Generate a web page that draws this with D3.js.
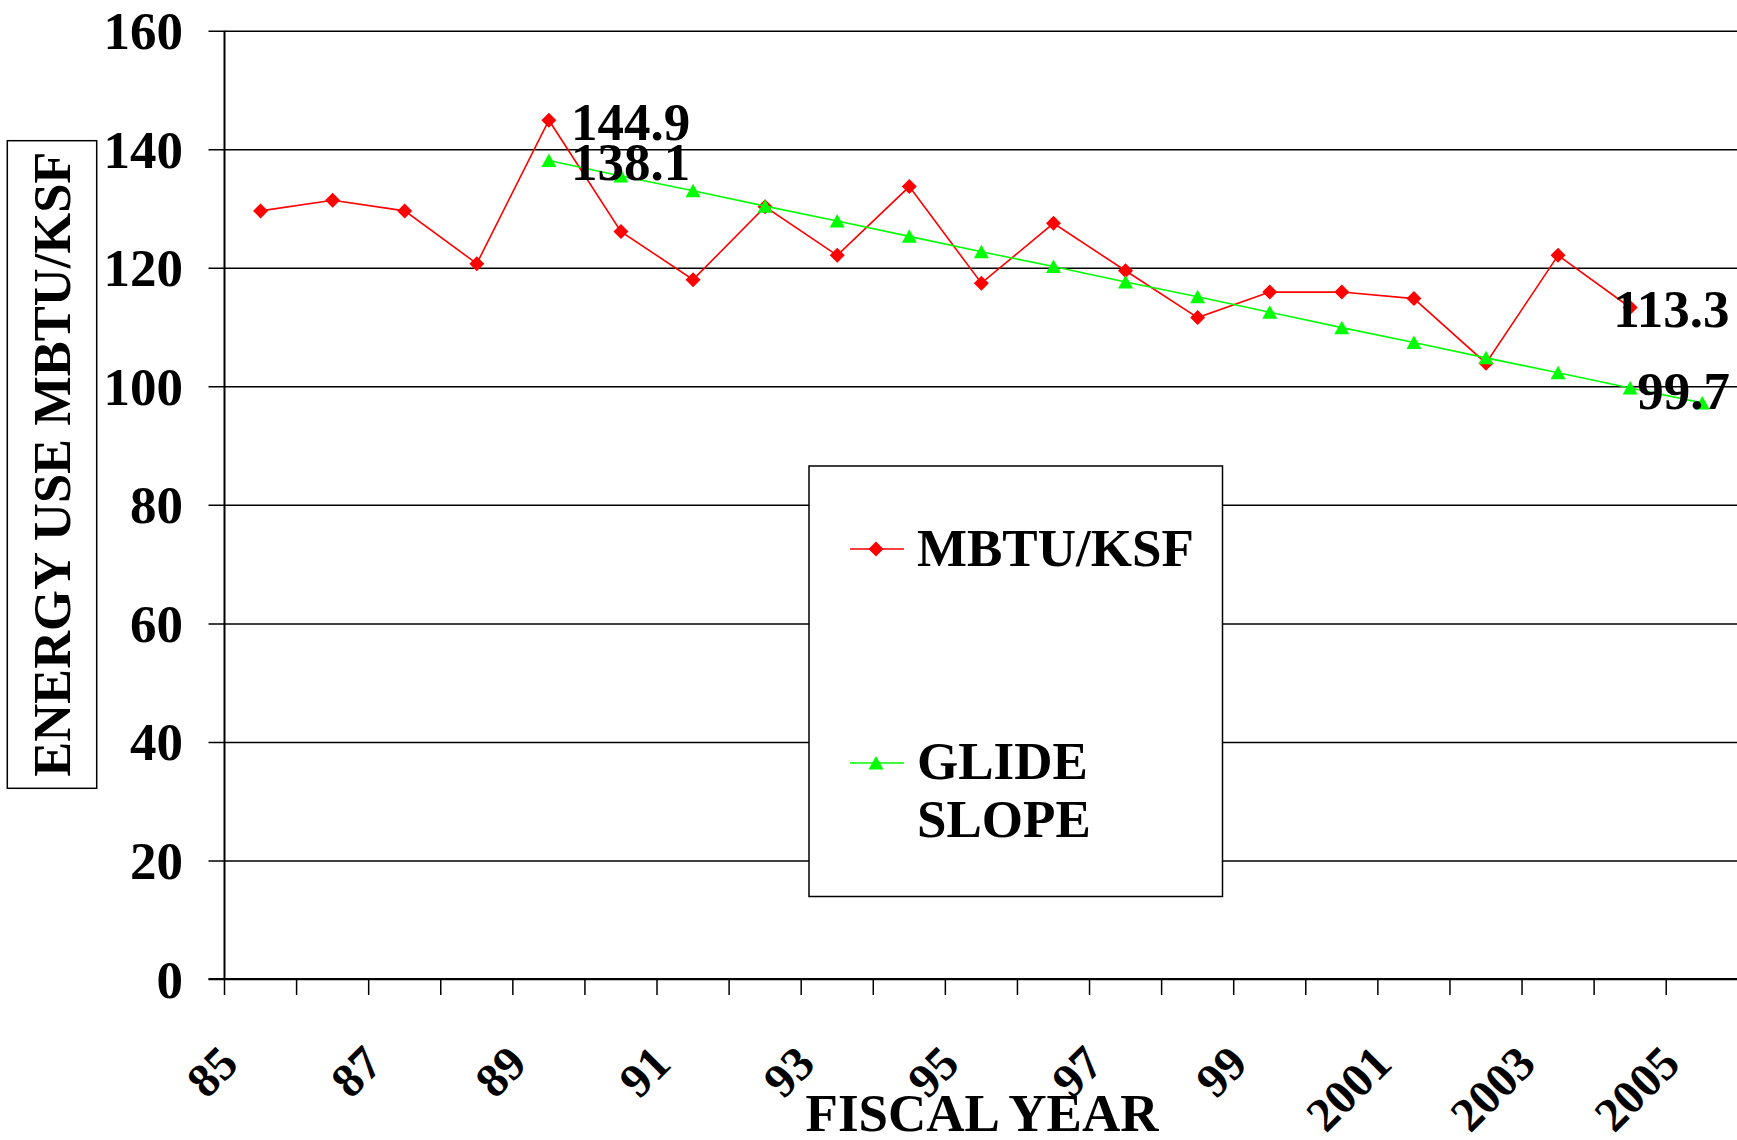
<!DOCTYPE html>
<html>
<head>
<meta charset="utf-8">
<script src="https://cdn.jsdelivr.net/npm/d3@7"></script>
<style>
  html, body { margin: 0; padding: 0; background: #fff; overflow: hidden; }
  svg { display: block; }
  text { font-family: "Liberation Serif", "Times New Roman", serif; font-weight: bold; fill: #000; }
</style>
</head>
<body>
<svg id="chart" width="1737" height="1140"></svg>
<script>
// ---- data ----
const years = ["85","86","87","88","89","90","91","92","93","94","95","96","97","98","99","2000","2001","2002","2003","2004","2005"];
const mbtuKsf = [129.6,131.4,129.6,120.7,144.9,126.1,118.0,130.3,122.1,133.7,117.4,127.5,119.5,111.6,115.9,115.9,114.8,103.9,122.1,113.3,null];
const glideSlope = [null,null,null,null,138.1,135.5,133.0,130.4,127.9,125.3,122.7,120.2,117.6,115.1,112.5,109.9,107.4,104.8,102.3,99.7,97.2];
const yTicks = [0,20,40,60,80,100,120,140,160];
const xTickLabels = ["85","87","89","91","93","95","97","99","2001","2003","2005"];
const seriesNames = ["MBTU/KSF", "GLIDE SLOPE"];
const labelYears = [["89","mbtu"],["89","glide"],["2004","mbtu"],["2004","glide"]];

// ---- layout ----
const svg = d3.select("#chart");
const L = 224.5, R = 1738.3, T = 30.7, B = 979;
const x = d3.scaleBand().domain(years).range([L, R]).padding(0);
const y = d3.scaleLinear().domain([0, 160]).range([B, T]);
const cx = d => x(d) + x.bandwidth() / 2;
const RED = "#ff0000", GREEN = "#00ff00";
const FS = 53;

// gridlines + y labels via axis
const yAxis = d3.axisLeft(y).tickValues(yTicks).tickSizeInner(-(R - L)).tickSizeOuter(0).tickPadding(0);
const gy = svg.append("g").attr("transform", `translate(${L},0)`).call(yAxis);
gy.select(".domain").remove();
gy.selectAll(".tick line").attr("x1", -16).attr("stroke", "#000").attr("stroke-width", 1.5);
gy.selectAll(".tick text")
  .attr("x", -41.5).attr("dy", "0.34em")
  .style("font-size", FS + "px").style("font-family", "Liberation Serif").style("font-weight", "bold").attr("fill", "#000");

// axes lines
svg.append("line").attr("x1", L).attr("x2", L).attr("y1", y(160)).attr("y2", B)
  .attr("stroke", "#000").attr("stroke-width", 2);
svg.append("line").attr("x1", L - 16).attr("x2", R).attr("y1", B).attr("y2", B)
  .attr("stroke", "#000").attr("stroke-width", 2);

// x ticks at band boundaries
const boundaries = years.map(d => x(d)).concat([R]);
svg.append("g").selectAll("line").data(boundaries).join("line")
  .attr("x1", d => d).attr("x2", d => d).attr("y1", B).attr("y2", B + 16)
  .attr("stroke", "#000").attr("stroke-width", 1.5);

// x tick labels
svg.append("g").selectAll("text").data(xTickLabels).join("text")
  .attr("transform", d => `translate(${cx(d) - 20},${1066}) rotate(-45)`)
  .attr("text-anchor", "end")
  .style("font-size", "48px")
  .text(d => d);

// axis titles
svg.append("text").attr("x", 982).attr("y", 1131).attr("text-anchor", "middle")
  .style("font-size", FS + "px").text("FISCAL YEAR");
svg.append("rect").attr("x", 7.3).attr("y", 140.7).attr("width", 89.4).attr("height", 647.6)
  .attr("fill", "#fff").attr("stroke", "#000").attr("stroke-width", 1.5);
svg.append("text").attr("transform", "translate(70,464.2) rotate(-90)").attr("text-anchor", "middle")
  .style("font-size", "52.5px").text("ENERGY USE MBTU/KSF");

// legend box
svg.append("rect").attr("x", 809).attr("y", 466).attr("width", 413.5).attr("height", 430.5)
  .attr("fill", "#fff").attr("stroke", "#000").attr("stroke-width", 1.5);

// marker shapes
const diamond = (px, py) => `M${px},${py - 7.5}L${px + 7.5},${py}L${px},${py + 7.5}L${px - 7.5},${py}Z`;
const triangle = (px, py) => `M${px},${py - 7}L${px + 7.5},${py + 6.5}L${px - 7.5},${py + 6.5}Z`;

function drawSeries(values, color, marker) {
  const pts = years.map((d, i) => ({ d, v: values[i] })).filter(p => p.v != null);
  const line = d3.line().x(p => cx(p.d)).y(p => y(p.v));
  svg.append("path").datum(pts).attr("d", line).attr("fill", "none")
    .attr("stroke", color).attr("stroke-width", 1.6);
  svg.append("g").selectAll("path").data(pts).join("path")
    .attr("d", p => marker(cx(p.d), y(p.v))).attr("fill", color);
}
drawSeries(mbtuKsf, RED, diamond);
drawSeries(glideSlope, GREEN, triangle);

// legend entries
const lx1 = 850, lx2 = 904, lmx = 876;
svg.append("line").attr("x1", lx1).attr("x2", lx2).attr("y1", 549).attr("y2", 549).attr("stroke", RED).attr("stroke-width", 1.6);
svg.append("path").attr("d", diamond(lmx, 549)).attr("fill", RED);
svg.append("text").attr("x", 917).attr("y", 566).style("font-size", FS + "px").text(seriesNames[0]);
svg.append("line").attr("x1", lx1).attr("x2", lx2).attr("y1", 763).attr("y2", 763).attr("stroke", GREEN).attr("stroke-width", 1.6);
svg.append("path").attr("d", triangle(lmx, 763)).attr("fill", GREEN);
const gl = svg.append("text").attr("x", 917).attr("y", 779).style("font-size", FS + "px");
gl.append("tspan").attr("x", 917).text(seriesNames[1].split(" ")[0]);
gl.append("tspan").attr("x", 917).attr("dy", 57.5).text(seriesNames[1].split(" ")[1]);

// data labels
const labelOffsets = { "89mbtu": [22, 20], "89glide": [22, 20], "2004mbtu": [-17, 19.5], "2004glide": [7, 20.5] };
labelYears.forEach(([yr, s]) => {
  const i = years.indexOf(yr);
  const v = s === "mbtu" ? mbtuKsf[i] : glideSlope[i];
  const off = labelOffsets[yr + s];
  svg.append("text").attr("x", cx(yr) + off[0]).attr("y", y(v) + off[1])
    .style("font-size", FS + "px").text(d3.format(".1f")(v));
});
</script>
</body>
</html>
